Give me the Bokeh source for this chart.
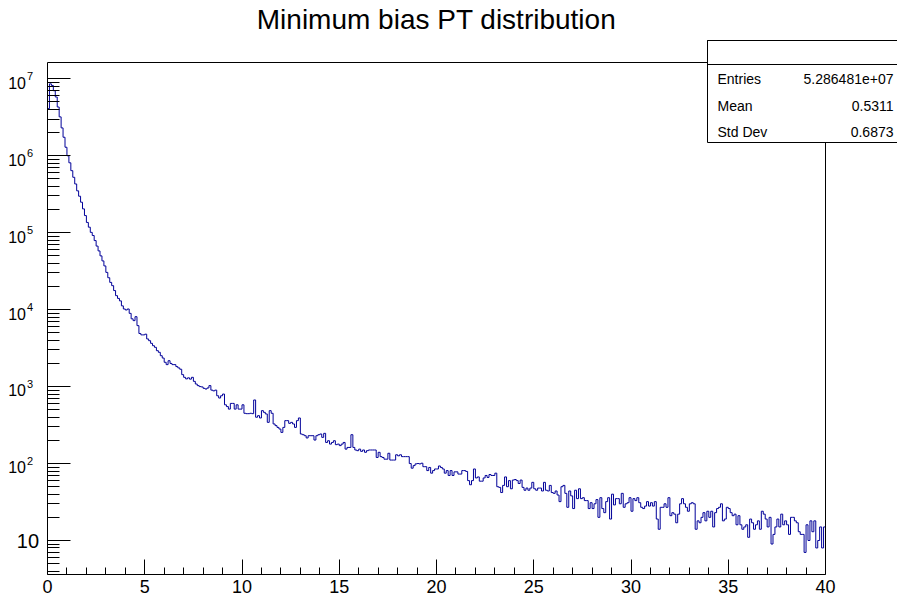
import numpy as np
from bokeh.plotting import figure
from bokeh.models import Range1d, FixedTicker, CustomJSTickFormatter, Label, BoxAnnotation
from bokeh.embed import file_html
from bokeh.resources import INLINE

# ---------------- data ----------------
title_text = "Minimum bias PT distribution"
x_min, x_max = 0.0, 40.0
bin_width = 0.1

counts = [
    4.1e6, 8.6e6, 8.2e6, 7.0e6, 5.8e6, 4.3e6, 3.2e6, 2.3e6, 1.74e6, 1.29e6,
    1.0e6, 8.1e5, 6.4e5, 5.25e5, 4.3e5, 3.5e5, 2.98e5, 2.49e5, 2.04e5, 1.67e5,
    1.36e5, 1.18e5, 1.01e5, 9.2e4, 7.9e4, 6.7e4, 5.8e4, 5.0e4, 4.3e4, 3.7e4,
    3.05e4, 2.6e4, 2.26e4, 2.05e4, 1.77e4, 1.52e4, 1.40e4, 1.3e4, 1.12e4, 1.02e4,
    9900, 10200, 8950, 7600, 7200, 8100, 6200, 4900, 4700, 4700,
    4800, 4160, 3950, 3650, 3400, 3240, 2930, 2790, 2520, 2350,
    2070, 1930, 2170, 2000, 1930, 1930, 1820, 1750, 1680, 1430,
    1320, 1260, 1300, 1250, 1320, 1170, 1080, 1030, 1000, 990,
    950, 930, 960, 1030, 900, 880, 900, 760, 710, 760,
    800, 580, 550, 510, 605, 605, 510, 580, 510, 510,
    580, 450, 445, 445, 450, 445, 670, 400, 419, 391,
    487, 463, 441, 343, 487, 450, 327, 311, 295, 281,
    254, 295, 361, 361, 333, 343, 327, 295, 361, 391,
    242, 237, 230, 215, 230, 230, 230, 202, 230, 237,
    242, 219, 247, 188, 198, 179, 188, 198, 176, 179,
    171, 179, 188, 154, 162, 162, 237, 162, 150, 147,
    154, 144, 150, 140, 147, 150, 150, 150, 150, 120,
    140, 123, 120, 114, 114, 136, 111, 111, 111, 130,
    126, 130, 123, 123, 123, 123, 100, 87, 94, 99,
    100, 99, 101, 91, 91, 81, 89, 75, 81, 85,
    85, 93, 89, 85, 75, 81, 70, 81, 70, 78,
    78, 73, 73, 81, 81, 79, 60, 53, 60, 85,
    65, 67, 59, 59, 65, 70, 66, 72, 70, 70,
    75, 50, 49, 42, 52, 67, 50, 60, 47, 61,
    62, 60, 55, 61, 49, 45, 48, 45, 48, 57,
    47, 45, 48, 48, 44, 57, 45, 44, 52, 42,
    41, 44, 39, 32, 50, 52, 41, 27, 44, 38,
    26, 45, 35, 47, 35, 36, 33, 33, 26, 31,
    26, 30, 34, 20, 36, 26, 23, 32, 36, 19,
    40, 29, 35, 35, 30, 41, 27, 30, 31, 36,
    24, 35, 33, 36, 31, 27, 26, 28, 32, 28,
    31, 28, 32, 19, 14, 27, 27, 30, 27, 36,
    21, 23, 22, 17, 22, 30, 35, 30, 27, 24,
    30, 31, 30, 14, 18, 17, 20, 23, 18, 24,
    20, 24, 15, 23, 26, 27, 30, 18, 19, 27,
    26, 23, 21, 22, 16, 21, 16, 14, 15, 16,
    11, 19, 17, 14, 16, 18, 14, 24, 22, 19,
    15, 20, 9, 12, 15, 19, 15, 22, 16, 18,
    16, 12, 20, 20, 18, 17, 13, 12, 12, 7,
    16, 10, 18, 13, 18, 8, 10, 15, 8, 15,
]

x_major_ticks = [0, 5, 10, 15, 20, 25, 30, 35, 40]
x_minor_ticks = [v for v in range(1, 40) if v % 5 != 0]
y_exponents = [1, 2, 3, 4, 5, 6, 7]
y_minor_mantissas = [2, 3, 4, 5, 6, 7, 8, 9]

stats_labels = ["Entries", "Mean", "Std Dev"]
stats_values = ["5.286481e+07", "0.5311", "0.6873"]

# ---------------- layout (pixels) ----------------
W, H = 897, 604
FL, FR, FT, FB = 47, 825, 62, 574          # ROOT frame edges in the picture
y_lo, y_hi = 3.615, 1.629e7                 # y range of the ROOT frame
ly_lo, ly_hi = np.log10(y_lo), np.log10(y_hi)
FONT = "Liberation Sans"
BASE_SHIFT = 0.32                            # baseline correction (fraction of font size)

# Bokeh's frame covers the whole canvas; the ROOT frame is drawn inside it
xs_per_px = (x_max - x_min) / (FR - FL)
ly_per_px = (ly_hi - ly_lo) / (FB - FT)
cx0 = x_min - FL * xs_per_px
cx1 = x_min + (W - FL) * xs_per_px
cy0 = 10 ** (ly_lo - (H - FB) * ly_per_px)
cy1 = 10 ** (ly_hi + FT * ly_per_px)


def px2x(px):
    return x_min + (px - FL) * xs_per_px


def py2y(py):
    return 10 ** (ly_hi - (py - FT) * ly_per_px)


def y2py(y):
    return FT + (ly_hi - np.log10(y)) / ly_per_px


def text_label(px, baseline_py, text, size, align="left", level="annotation"):
    return Label(x=px2x(px), y=py2y(baseline_py - BASE_SHIFT * size), text=text,
                 text_align=align, text_baseline="alphabetic", text_font=FONT,
                 text_font_size=f"{size}px", text_color="black", level=level)


p = figure(width=W, height=H, x_range=Range1d(cx0, cx1), y_range=Range1d(cy0, cy1),
           y_axis_type="log", output_backend="svg", toolbar_location=None, title=None,
           min_border=0, min_border_left=0, min_border_right=0, min_border_top=0,
           min_border_bottom=0)
p.xgrid.visible = False
p.ygrid.visible = False
p.outline_line_color = None
p.background_fill_color = "white"
p.border_fill_color = "white"

# histogram outline
edges = x_min + bin_width * np.arange(len(counts) + 1)
xs = np.repeat(edges, 2)[1:-1]
ys = np.repeat(np.asarray(counts, dtype=float), 2)
p.line(xs, ys, line_color="#000099", line_width=1)

# top and right edges of the ROOT frame
p.line([x_min, x_max, x_max], [y_hi, y_hi, y_lo], line_color="black", line_width=1)

# x axis (placed at the bottom edge of the ROOT frame)
xa = p.xaxis[0]
xa.fixed_location = y_lo
xa.bounds = (x_min, x_max)
xa.ticker = FixedTicker(ticks=x_major_ticks, minor_ticks=x_minor_ticks)
xa.major_tick_in = 15
xa.major_tick_out = 0
xa.minor_tick_in = 7
xa.minor_tick_out = 0
xa.axis_line_color = "black"
xa.major_tick_line_color = "black"
xa.minor_tick_line_color = "black"
xa.major_label_text_font = FONT
xa.major_label_text_font_size = "18px"
xa.major_label_text_color = "black"
xa.major_label_standoff = 5

# y axis (placed at the left edge of the ROOT frame)
ya = p.yaxis[0]
ya.fixed_location = x_min
ya.bounds = (y_lo, y_hi)
y_minor = [m * 10 ** k for k in range(0, 8) for m in y_minor_mantissas]
y_minor = [v for v in y_minor if y_lo <= v <= y_hi]
ya.ticker = FixedTicker(ticks=[10 ** k for k in y_exponents], minor_ticks=y_minor)
ya.major_tick_in = 23
ya.major_tick_out = 0
ya.minor_tick_in = 12
ya.minor_tick_out = 0
ya.axis_line_color = "black"
ya.major_tick_line_color = "black"
ya.minor_tick_line_color = "black"
ya.formatter = CustomJSTickFormatter(code="return ''")
ya.major_label_text_font_size = "1px"

# y tick labels (10, 10^2 ... 10^7)
for k in y_exponents:
    ty = y2py(10 ** k)
    if k == 1:
        p.add_layout(text_label(38.5, ty + 7, "10", 20, align="right"))
    else:
        p.add_layout(text_label(25.5, ty + 9, "10", 16, align="right"))
        p.add_layout(text_label(26.5, ty + 1, str(k), 11, align="left"))

# title
p.add_layout(text_label(436, 28.3, title_text, 28, align="center"))

# statistics box
box_l, box_r, box_t, box_m, box_b = 707, 900, 40, 64, 142
p.add_layout(BoxAnnotation(left=px2x(box_l), right=px2x(box_r), top=py2y(box_t), bottom=py2y(box_b),
                           fill_color="white", fill_alpha=1.0, line_color="black", line_width=1,
                           line_alpha=1.0, level="overlay"))
p.add_layout(BoxAnnotation(left=px2x(box_l), right=px2x(box_r), top=py2y(box_t), bottom=py2y(box_m),
                           fill_alpha=0.0, line_color="black", line_width=1, line_alpha=1.0,
                           level="overlay"))
for i, (lab, val) in enumerate(zip(stats_labels, stats_values)):
    base = [83.3, 110, 136][i]
    p.add_layout(text_label(717, base, lab, 14, align="left", level="overlay"))
    p.add_layout(text_label(893, base, val, 14, align="right", level="overlay"))

open("out.html", "w").write(file_html(p, INLINE))
